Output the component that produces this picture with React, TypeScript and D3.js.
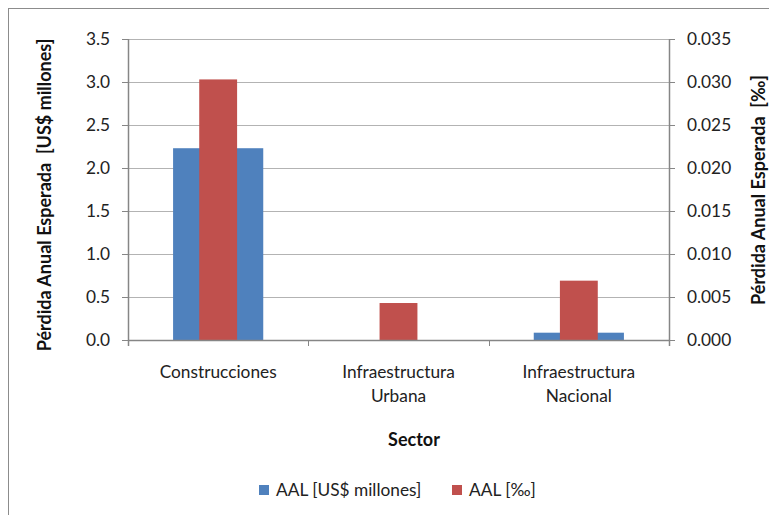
import React from "react";
import * as d3 from "d3";

const categories: string[][] = [["Construcciones"], ["Infraestructura", "Urbana"], ["Infraestructura", "Nacional"]];
const aalUSD: number[] = [2.23, 0, 0.085];
const aalPermil: number[] = [0.0303, 0.0043, 0.0069];
const leftTicks: number[] = [0, 0.5, 1.0, 1.5, 2.0, 2.5, 3.0, 3.5];
const rightTicks: number[] = [0, 0.005, 0.01, 0.015, 0.02, 0.025, 0.03, 0.035];
const seriesNames: string[] = ["AAL [US$ millones]", "AAL [‰]"];

const W = 769, H = 515;
const FONT = "Lato, 'Open Sans', sans-serif";
const FS = 17.3;
const FSB = 18;

export default function App() {
  const left = 128, right = 669, top = 39, bottom = 340;
  const x = d3.scaleBand<number>().domain(categories.map((_, i) => i)).range([left, right]).padding(0);
  const yL = d3.scaleLinear().domain([0, 3.5]).range([bottom, top]);
  const yR = d3.scaleLinear().domain([0, 0.035]).range([bottom, top]);
  const bw = x.bandwidth();
  const blueW = bw * 0.5;
  const redW = bw * 0.21;
  const blue = "#4f81bd", red = "#c0504d";
  const axisC = "#868686", gridC = "#b3b3b3";
  return (
    <svg width={W} height={H} style={{ position: "absolute", left: 0, top: 0 }}>
      <rect x={0} y={0} width={W} height={H} fill="#fff" />
      <rect x={8.5} y={8.5} width={770} height={520} fill="none" stroke="#8c8c8c" strokeWidth={1} />
      {leftTicks.map((t) => (
        <g key={"g" + t}>
          {t > 0 && <line x1={left} x2={right} y1={Math.round(yL(t)) + 0.5} y2={Math.round(yL(t)) + 0.5} stroke={gridC} strokeWidth={1.2} />}
          <line x1={left - 6} x2={left} y1={Math.round(yL(t)) + 0.5} y2={Math.round(yL(t)) + 0.5} stroke={axisC} />
          <text x={110} y={yL(t)} dy="0.35em" textAnchor="end" fontFamily={FONT} fontSize={FS} fill="#222">{t.toFixed(1)}</text>
        </g>
      ))}
      {rightTicks.map((t) => (
        <g key={"r" + t}>
          <line x1={right} x2={right + 6} y1={Math.round(yR(t)) + 0.5} y2={Math.round(yR(t)) + 0.5} stroke={axisC} />
          <text x={687} y={yR(t)} dy="0.35em" textAnchor="start" fontFamily={FONT} fontSize={FS} fill="#222">{t.toFixed(3)}</text>
        </g>
      ))}
      {categories.map((_, i) => (
        <rect key={"b" + i} x={x(i)! + bw / 2 - blueW / 2} y={yL(aalUSD[i])} width={blueW} height={bottom - yL(aalUSD[i])} fill={blue} />
      ))}
      {categories.map((_, i) => (
        <rect key={"rd" + i} x={x(i)! + bw / 2 - redW / 2} y={yR(aalPermil[i])} width={redW} height={bottom - yR(aalPermil[i])} fill={red} />
      ))}
      <line x1={left + 0.5} x2={left + 0.5} y1={top} y2={bottom + 6} stroke={axisC} strokeWidth={1.5} />
      <line x1={right + 0.5} x2={right + 0.5} y1={top} y2={bottom + 6} stroke={axisC} strokeWidth={1.5} />
      <line x1={left} x2={right} y1={bottom + 0.5} y2={bottom + 0.5} stroke={axisC} strokeWidth={1.5} />
      {[1, 2].map((i) => (
        <line key={"ct" + i} x1={Math.round(x(i)!) + 0.5} x2={Math.round(x(i)!) + 0.5} y1={bottom} y2={bottom + 6} stroke={axisC} />
      ))}
      {categories.map((lines, i) => (
        <text key={"c" + i} x={x(i)! + bw / 2} y={372} textAnchor="middle" fontFamily={FONT} fontSize={FS} fill="#222">
          {lines.map((l, j) => (
            <tspan key={j} x={x(i)! + bw / 2} dy={j === 0 ? "0.35em" : 24}>{l}</tspan>
          ))}
        </text>
      ))}
      <text x={414} y={440} dy="0.35em" textAnchor="middle" fontFamily={FONT} fontSize={FSB} fontWeight="bold" fill="#111">Sector</text>
      <text transform="translate(45,195) rotate(-90)" dy="0.35em" textAnchor="middle" fontFamily={FONT} fontSize={FSB} fontWeight="bold" fill="#111">{"Pérdida Anual Esperada\u00a0 [US$ millones]"}</text>
      <text transform="translate(759,190) rotate(-90)" dy="0.35em" textAnchor="middle" fontFamily={FONT} fontSize={FSB} fontWeight="bold" fill="#111">{"Pérdida Anual Esperada\u00a0 [‰]"}</text>
      <rect x={259} y={485} width={10} height={10} fill={blue} />
      <text x={276} y={490} dy="0.35em" fontFamily={FONT} fontSize={FS} fill="#222">{seriesNames[0]}</text>
      <rect x={452} y={485} width={10} height={10} fill={red} />
      <text x={469} y={490} dy="0.35em" fontFamily={FONT} fontSize={FS} fill="#222">{seriesNames[1]}</text>
    </svg>
  );
}
